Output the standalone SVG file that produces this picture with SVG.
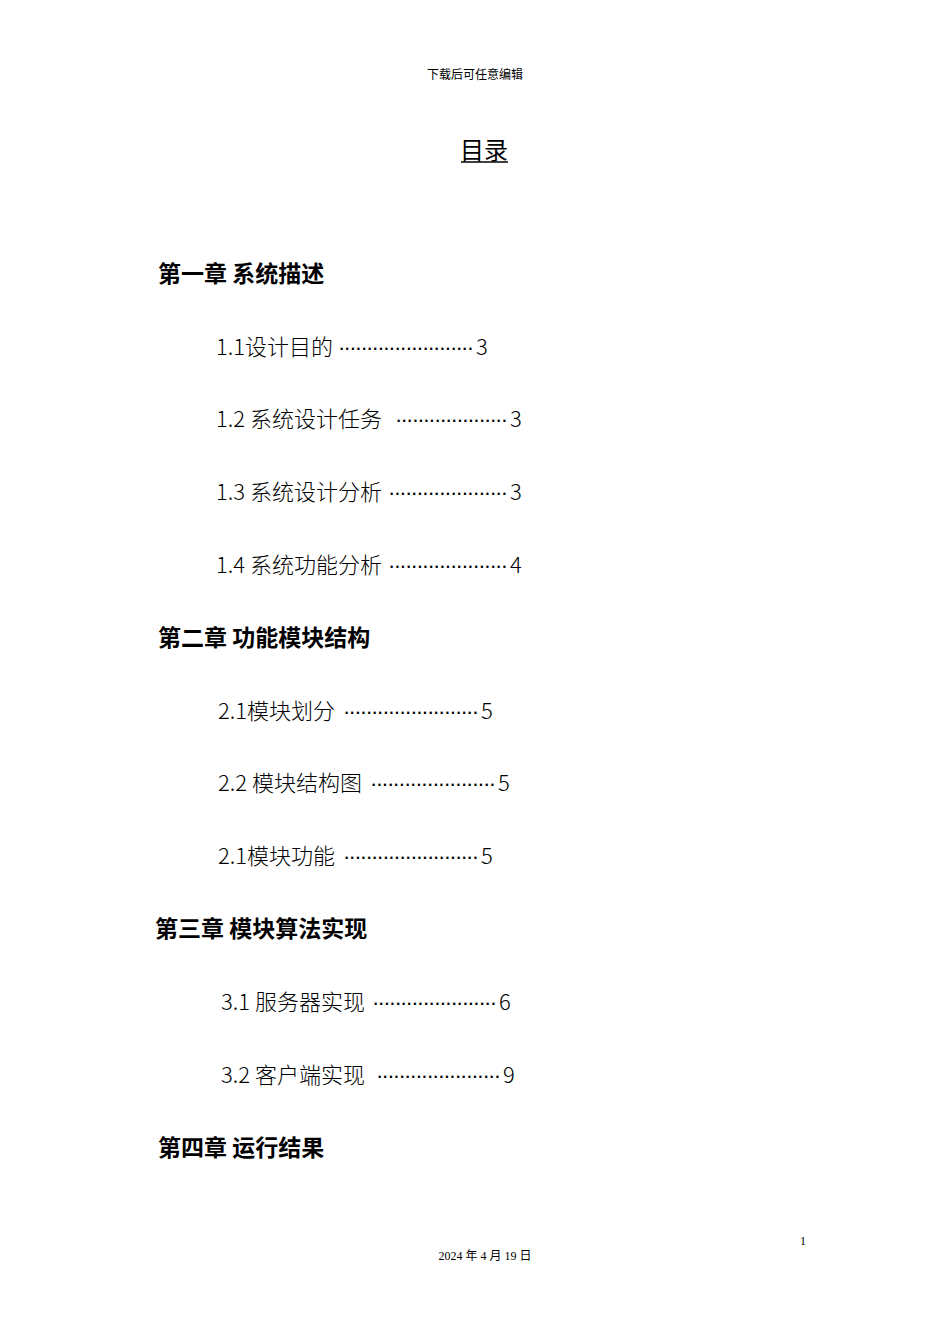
<svg xmlns="http://www.w3.org/2000/svg" width="950" height="1344" viewBox="0 0 950 1344">
<style>
text{font-family:"Noto Sans CJK SC","Noto Sans",sans-serif;fill:#000}
.s{font-size:12px}
.h{font-size:23px;font-weight:bold}
.e{font-size:22px;font-weight:300}
.d{font-family:"Liberation Sans",sans-serif;font-size:22px}
</style>
<rect width="950" height="1344" fill="#fff"/>
<text class="s" x="475" y="79" text-anchor="middle">下载后可任意编辑</text>
<text x="484" y="159" text-anchor="middle" style="font-size:24px">目录</text>
<line x1="461" y1="162" x2="508" y2="162" stroke="#000" stroke-width="1.5"/>
<text class="h" x="158" y="282">第一章 系统描述</text>
<text class="e" x="216" y="355">1.1设计目的</text><text class="d" x="338" y="355" textLength="136" lengthAdjust="spacing">························</text><text class="e" x="476" y="355">3</text>
<text class="e" x="216" y="427">1.2 系统设计任务</text><text class="d" x="395" y="427" textLength="113" lengthAdjust="spacing">····················</text><text class="e" x="510" y="427">3</text>
<text class="e" x="216" y="500">1.3 系统设计分析</text><text class="d" x="388" y="500" textLength="120" lengthAdjust="spacing">·····················</text><text class="e" x="510" y="500">3</text>
<text class="e" x="216" y="573">1.4 系统功能分析</text><text class="d" x="388" y="573" textLength="120" lengthAdjust="spacing">·····················</text><text class="e" x="510" y="573">4</text>
<text class="h" x="158" y="646">第二章 功能模块结构</text>
<text class="e" x="218" y="719">2.1模块划分</text><text class="d" x="343" y="719" textLength="136" lengthAdjust="spacing">························</text><text class="e" x="481" y="719">5</text>
<text class="e" x="218" y="791">2.2 模块结构图</text><text class="d" x="370" y="791" textLength="126" lengthAdjust="spacing">······················</text><text class="e" x="498" y="791">5</text>
<text class="e" x="218" y="864">2.1模块功能</text><text class="d" x="343" y="864" textLength="136" lengthAdjust="spacing">························</text><text class="e" x="481" y="864">5</text>
<text class="h" x="155" y="937">第三章 模块算法实现</text>
<text class="e" x="221" y="1010">3.1 服务器实现</text><text class="d" x="372" y="1010" textLength="125" lengthAdjust="spacing">······················</text><text class="e" x="499" y="1010">6</text>
<text class="e" x="221" y="1083">3.2 客户端实现</text><text class="d" x="376" y="1083" textLength="125" lengthAdjust="spacing">······················</text><text class="e" x="503" y="1083">9</text>
<text class="h" x="158" y="1156">第四章 运行结果</text>
<text class="s" x="803" y="1245" text-anchor="middle" style="font-family:'Liberation Serif','Noto Sans CJK SC',serif">1</text>
<text class="s" x="485" y="1260" text-anchor="middle" style="font-family:'Liberation Serif','Noto Sans CJK SC',serif">2024 年 4 月 19 日</text>
</svg>
